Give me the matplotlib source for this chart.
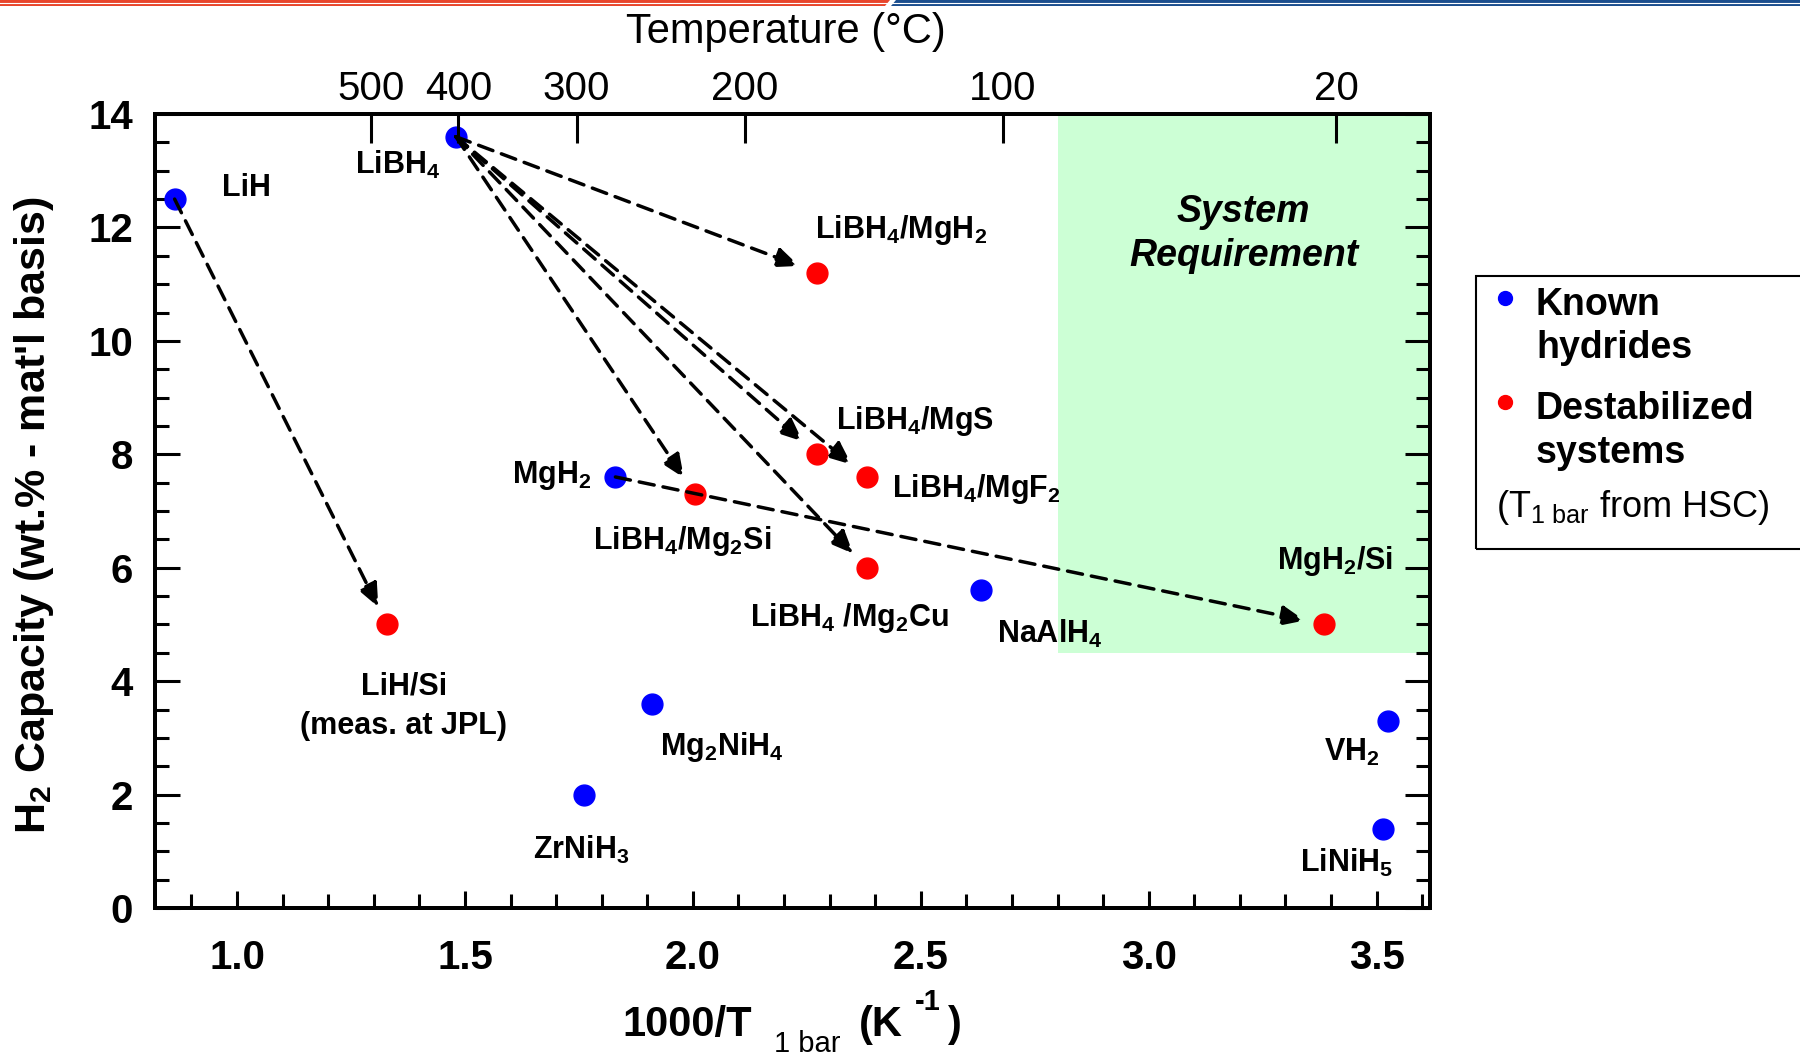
"""
Hydrogen capacity vs. 1000/T(1 bar) for known and destabilized hydrides.

Output:
    out.png
"""

import matplotlib
matplotlib.use("Agg")
import matplotlib.pyplot as plt
from matplotlib.patches import Rectangle, Polygon

plt.rcParams["font.family"] = ["Liberation Sans", "DejaVu Sans"]
plt.rcParams["mathtext.fontset"] = "custom"
plt.rcParams["mathtext.rm"] = "Liberation Sans"
plt.rcParams["mathtext.bf"] = "Liberation Sans:bold"
plt.rcParams["mathtext.it"] = "Liberation Sans:italic"
plt.rcParams["mathtext.default"] = "regular"

# ── data ────────────────────────────────────────────────────────────
KNOWN_NAMES = ["LiH", "LiBH4", "MgH2", "NaAlH4", "Mg2NiH4", "ZrNiH3", "VH2", "LiNiH5"]
KNOWN_X = [0.863, 1.480, 1.830, 2.633, 1.911, 1.762, 3.525, 3.513]
KNOWN_Y = [12.5, 13.6, 7.6, 5.6, 3.6, 2.0, 3.3, 1.4]

DESTAB_NAMES = ["LiH/Si", "LiBH4/MgH2", "LiBH4/MgS", "LiBH4/MgF2",
                "LiBH4/Mg2Si", "LiBH4/Mg2Cu", "MgH2/Si"]
DESTAB_X = [1.329, 2.273, 2.273, 2.381, 2.004, 2.381, 3.384]
DESTAB_Y = [5.0, 11.2, 8.0, 7.6, 7.3, 6.0, 5.0]

# parent hydride -> destabilized system
PATHS = [
    ("LiH", "LiH/Si"),
    ("LiBH4", "LiBH4/MgH2"),
    ("LiBH4", "LiBH4/MgS"),
    ("LiBH4", "LiBH4/MgF2"),
    ("LiBH4", "LiBH4/Mg2Si"),
    ("LiBH4", "LiBH4/Mg2Cu"),
    ("MgH2", "MgH2/Si"),
]

X_TICKS = [1.0, 1.5, 2.0, 2.5, 3.0, 3.5]
Y_TICKS = [0, 2, 4, 6, 8, 10, 12, 14]
TEMP_TICKS_C = [500, 400, 300, 200, 100, 20]

# system requirement window (1000/T lower bound, wt.% lower bound)
REQ_INV_T = 2.80
REQ_WT = 4.5

# ── label layout: text, offset (pt), ha ─────────────────────────────
LABELS = {
    "LiH": ("LiH", (34, 8), "left"),
    "LiBH4": ("LiBH$_4$", (-42, -20), "center"),
    "MgH2": ("MgH$_2$", (-46, 1), "center"),
    "NaAlH4": ("NaAlH$_4$", (49, -31), "center"),
    "Mg2NiH4": ("Mg$_2$NiH$_4$", (50, -31), "center"),
    "ZrNiH3": ("ZrNiH$_3$", (-2, -40), "center"),
    "VH2": ("VH$_2$", (-26, -23), "center"),
    "LiNiH5": ("LiNiH$_5$", (-26, -25), "center"),
    "LiH/Si": ("LiH/Si\n(meas. at JPL)", (12, -59), "center"),
    "LiBH4/MgH2": ("LiBH$_4$/MgH$_2$", (60, 31), "center"),
    "LiBH4/MgS": ("LiBH$_4$/MgS", (70, 24), "center"),
    "LiBH4/MgF2": ("LiBH$_4$/MgF$_2$", (79, -9), "center"),
    "LiBH4/Mg2Si": ("LiBH$_4$/Mg$_2$Si", (-9, -34), "center"),
    "LiBH4/Mg2Cu": ("LiBH$_4$ /Mg$_2$Cu", (-12, -36), "center"),
    "MgH2/Si": ("MgH$_2$/Si", (8, 46), "center"),
}

BLUE = "#0000FF"
RED = "#FF0000"
GREEN = "#CCFFD5"

W, H = 1800, 1057


def fx(x):
    return x / 1568


def fy(y):
    return 1 - y / 921


fig = plt.figure(figsize=(W / 100, H / 100), dpi=100)
ax = fig.add_axes([155 / W, 1 - 908 / H, 1275 / W, 794 / H])
ax2 = ax.twiny()

XLIM = (0.82, 3.617)
YLIM = (0, 14)
ax.set_xlim(XLIM)
ax.set_ylim(YLIM)

# green requirement window
ax.add_patch(Rectangle((REQ_INV_T, REQ_WT), XLIM[1] - REQ_INV_T, YLIM[1] - REQ_WT,
                       facecolor=GREEN, edgecolor="none", zorder=0))
ax.text((REQ_INV_T + XLIM[1]) / 2, 11.88, "System\nRequirement",
        ha="center", va="center", fontsize=27, fontweight="bold",
        fontstyle="italic", linespacing=1.3)

# markers
ax.plot(KNOWN_X, KNOWN_Y, "o", color=BLUE, markersize=15, zorder=3)
ax.plot(DESTAB_X, DESTAB_Y, "o", color=RED, markersize=15, zorder=3)

pos = {n: (x, y) for n, x, y in zip(KNOWN_NAMES, KNOWN_X, KNOWN_Y)}
pos.update({n: (x, y) for n, x, y in zip(DESTAB_NAMES, DESTAB_X, DESTAB_Y)})

# dashed destabilization arrows
for src, dst in PATHS:
    ax.annotate(
        "", xy=pos[dst], xytext=pos[src],
        arrowprops=dict(arrowstyle="-|>,head_length=0.7,head_width=0.3",
                        mutation_scale=20, linestyle=(0, (4.4, 2.6)),
                        linewidth=2.5, color="black",
                        shrinkA=0, shrinkB=14),
        zorder=4,
    )

# point labels
for name, (text, off, ha) in LABELS.items():
    ax.annotate(text, xy=pos[name], xytext=off, textcoords="offset points",
                ha=ha, va="center", fontsize=22, fontweight="bold",
                multialignment="center", linespacing=1.4, zorder=5)

# bottom / left / right axes
ax.set_xticks(X_TICKS)
ax.set_xticklabels([f"{t:.1f}" for t in X_TICKS], fontsize=29, fontweight="bold")
ax.set_xticks([0.9 + 0.1 * i for i in range(28)], minor=True)
ax.set_yticks(Y_TICKS)
ax.set_yticklabels([str(t) for t in Y_TICKS], fontsize=29, fontweight="bold")
ax.set_yticks([0.5 * i for i in range(29)], minor=True)

ax.tick_params(which="both", direction="in", right=True, top=False, width=2.2)
ax.tick_params(axis="y", which="major", length=18, pad=16)
ax.tick_params(axis="y", which="minor", length=10)
ax.tick_params(axis="x", which="major", length=12, pad=22)
ax.tick_params(axis="x", which="minor", length=10)
for sp in ax.spines.values():
    sp.set_linewidth(2.8)

# top temperature axis
ax2.set_xlim(XLIM)
ax2.set_xticks([1000 / (t + 273.15) for t in TEMP_TICKS_C])
ax2.set_xticklabels([str(t) for t in TEMP_TICKS_C], fontsize=29)
ax2.tick_params(axis="x", direction="in", length=21, width=2.2, pad=4)
for sp in ax2.spines.values():
    sp.set_linewidth(2.8)

fig.text(fx(685), fy(28), "Temperature (°C)", ha="center", va="center", fontsize=30)

# x label assembled from pieces: 1000/T, subscript "1 bar", (K^-1)
fig.text(fx(655), fy(893), "1000/T", ha="right", va="center", fontsize=30, fontweight="bold")
fig.text(fx(674), fy(910), "1 bar", ha="left", va="center", fontsize=21)
fig.text(fx(748), fy(893), "(K", ha="left", va="center", fontsize=30, fontweight="bold")
fig.text(fx(797), fy(873), "-1", ha="left", va="center", fontsize=21, fontweight="bold")
fig.text(fx(826), fy(893), ")", ha="left", va="center", fontsize=30, fontweight="bold")

fig.text(fx(30), fy(449), "H$_2$ Capacity (wt.% - mat'l basis)",
         ha="center", va="center", rotation=90, fontsize=31, fontweight="bold")

# legend box
fig.add_artist(Rectangle((1476 / W, 1 - 549 / H), 340 / W, 273 / H,
                         transform=fig.transFigure, fill=False,
                         edgecolor="black", linewidth=1.5))
fig.add_artist(plt.Line2D([fx(1311)], [fy(260)], marker="o", color=BLUE,
                          markersize=10, transform=fig.transFigure))
fig.add_artist(plt.Line2D([fx(1311)], [fy(350)], marker="o", color=RED,
                          markersize=10, transform=fig.transFigure))
for txt, y in [("Known", 266), ("hydrides", 303), ("Destabilized", 356), ("systems", 395)]:
    fig.text(fx(1338), fy(y), txt, ha="left", va="center", fontsize=27, fontweight="bold")
fig.text(fx(1303), fy(442), "(T$_{1\\ bar}$ from HSC)", ha="left", va="center", fontsize=26)

# header stripe
RED_BAR = "#E8452C"
BLUE_BAR = "#1B4E8E"
fig.add_artist(Polygon([(0, 1), (890 / W, 1), (885 / W, 1 - 6 / H), (0, 1 - 6 / H)],
                       closed=True, transform=fig.transFigure,
                       facecolor=RED_BAR, edgecolor="none"))
fig.add_artist(Polygon([(896 / W, 1), (1, 1), (1, 1 - 6 / H), (891 / W, 1 - 6 / H)],
                       closed=True, transform=fig.transFigure,
                       facecolor=BLUE_BAR, edgecolor="none"))
fig.add_artist(plt.Line2D([0, 1], [1 - 3 / H, 1 - 3 / H], color="white",
                          linewidth=0.8, transform=fig.transFigure))

fig.savefig("out.png", dpi=100)
